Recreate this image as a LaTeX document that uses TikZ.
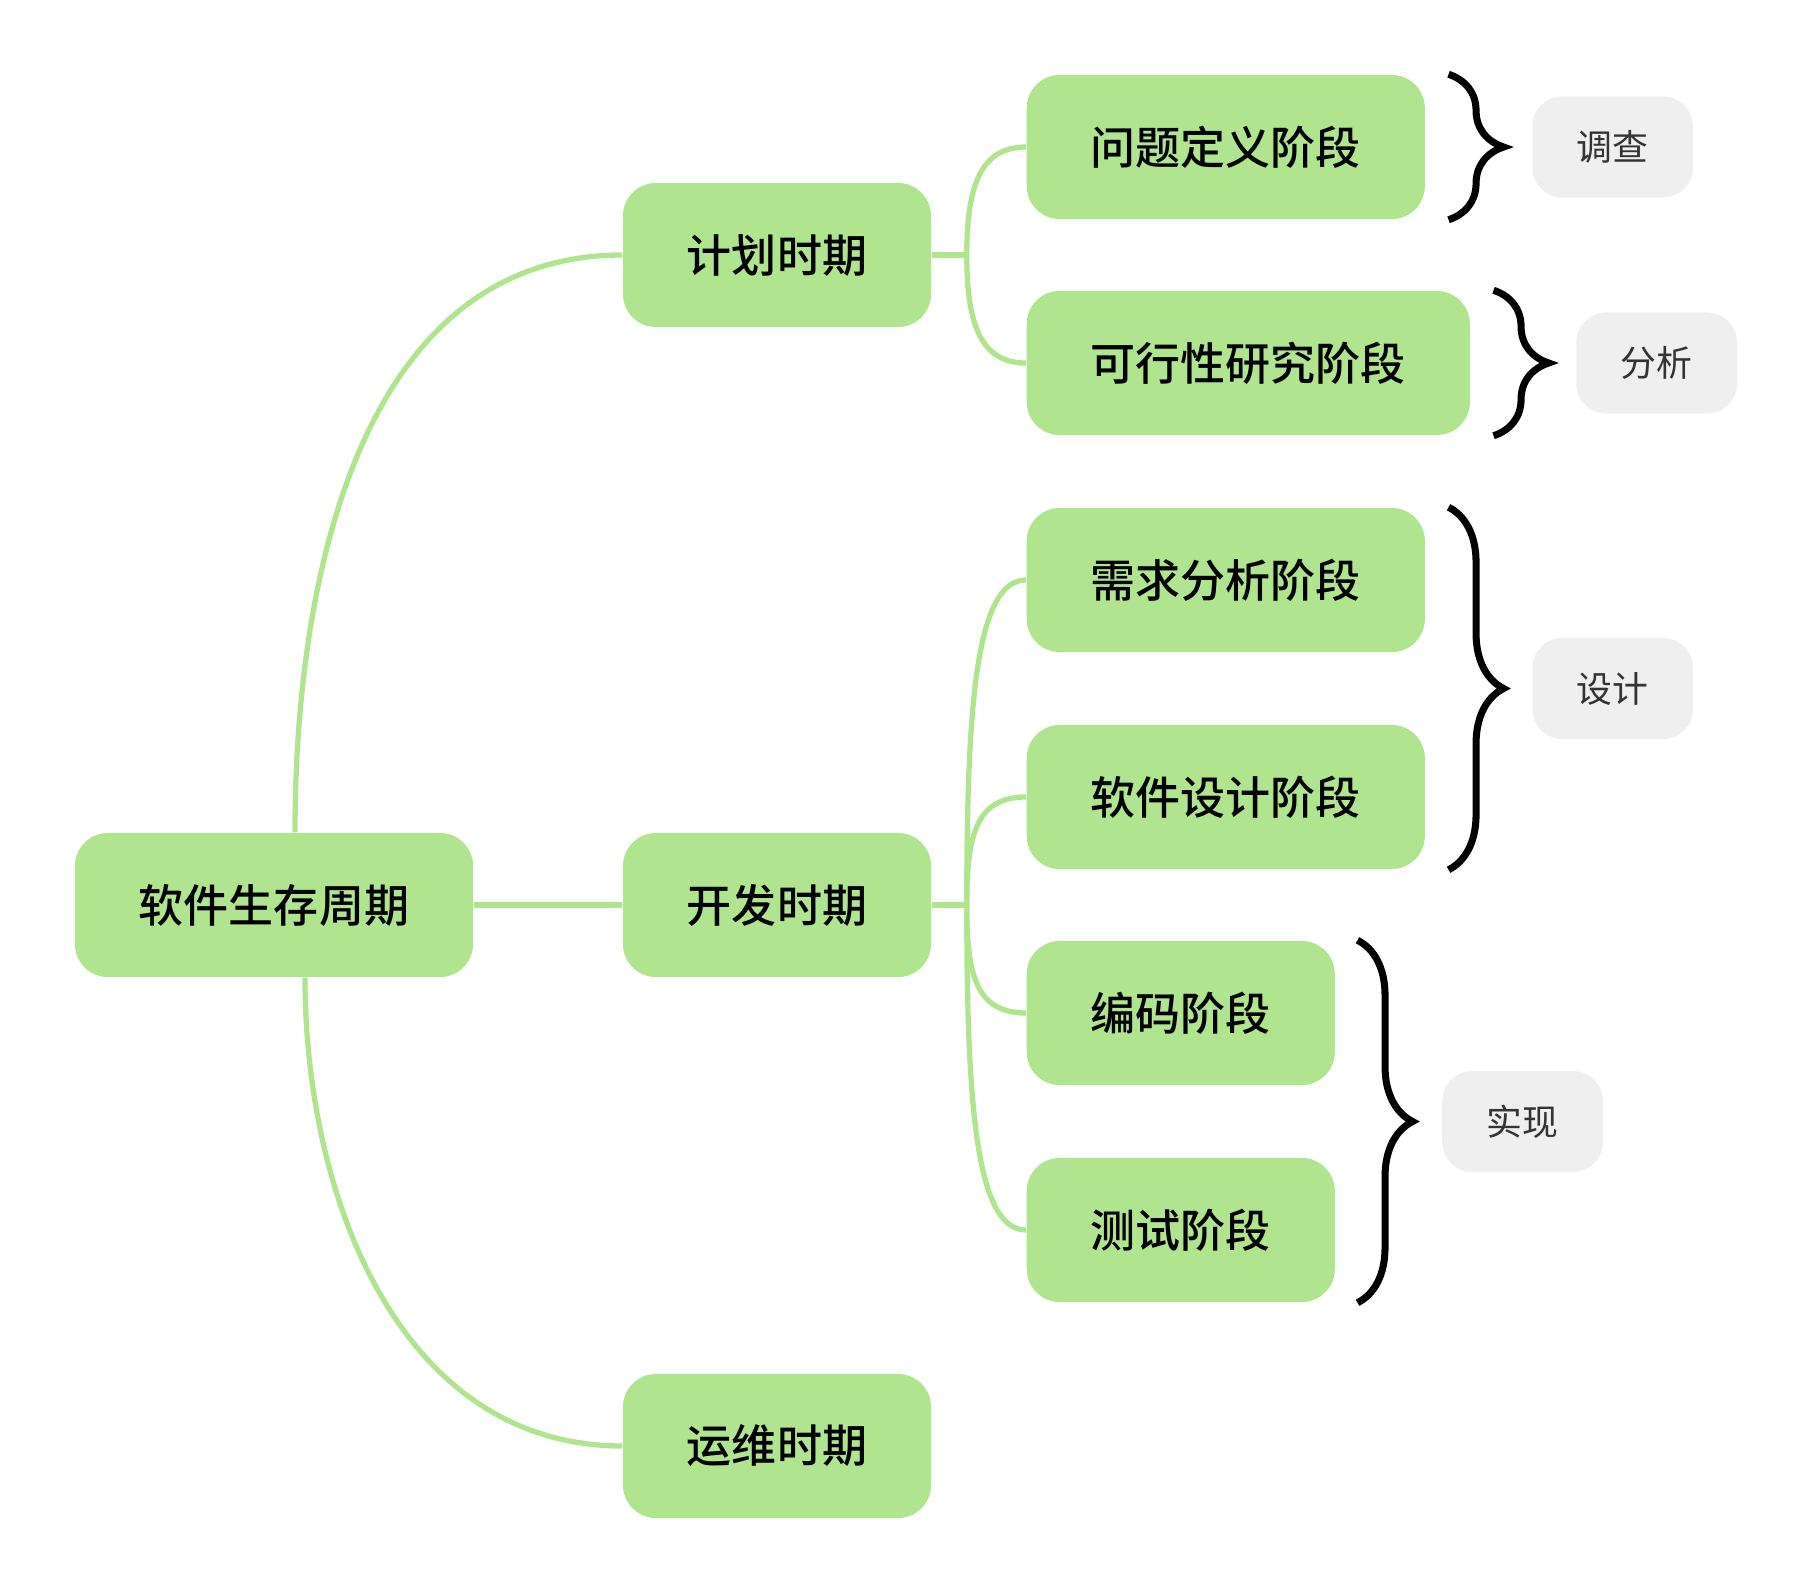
\documentclass[tikz,border=0pt]{standalone}
\usepackage{fontspec}
\newfontfamily\cjk[BoldFont={Noto Sans CJK SC Medium}]{Noto Sans CJK SC}
\usetikzlibrary{positioning,calc,decorations.pathreplacing}
\definecolor{leaf}{RGB}{176,228,143}
\definecolor{notegray}{RGB}{239,239,239}
\definecolor{notetext}{RGB}{51,51,51}
\tikzset{
	stagebox/.style={fill=leaf,rounded corners=0.33cm,inner xsep=0.64cm,inner ysep=0pt,minimum height=1.44cm,font=\cjk\bfseries\fontsize{12.8}{15}\selectfont},
	notebox/.style={fill=notegray,text=notetext,rounded corners=0.3cm,inner xsep=0.445cm,inner ysep=0pt,minimum height=1.01cm,font=\cjk\fontsize{10.2}{12}\selectfont},
	link/.style={leaf,line width=1.5pt},
	bracket/.style={decorate,decoration={brace,amplitude=0.55cm},line width=2pt},
}
\begin{document}
\begin{tikzpicture}[x=0.01cm,y=-0.01cm]
	\useasboundingbox (0,0) rectangle (1814,1590);
	\node[stagebox] (root) at (274,905) {软件生存周期};
	\node[stagebox] (plan) at (777,255) {计划时期};
	\node[stagebox] (dev) at (777,905) {开发时期};
	\node[stagebox] (ops) at (777,1446) {运维时期};
	\node[stagebox,anchor=west] (qdef) at (1026,147) {问题定义阶段};
	\node[stagebox,anchor=west] (feas) at (1026,363) {可行性研究阶段};
	\node[stagebox,anchor=west] (req) at (1026,580) {需求分析阶段};
	\node[stagebox,anchor=west] (des) at (1026,797) {软件设计阶段};
	\node[stagebox,anchor=west] (code) at (1026,1013) {编码阶段};
	\node[stagebox,anchor=west] (test) at (1026,1230) {测试阶段};
	% main branches
	\draw[link] (root.east) -- (dev.west);
	\draw[link] ($(root.north)+(21,0)$) to[out=90,in=180] (plan.west);
	\draw[link] ($(root.south)+(31,0)$) to[out=-90,in=180] (ops.west);
	% sub branches
	\coordinate (pj) at ($(plan.east)+(35,0)$);
	\coordinate (dj) at ($(dev.east)+(35,0)$);
	\draw[link] (plan.east) -- (pj);
	\draw[link] (dev.east) -- (dj);
	\draw[link] (pj) .. controls +(0,-70) and +(-45,0) .. (qdef.west);
	\draw[link] (pj) .. controls +(0,70) and +(-45,0) .. (feas.west);
	\foreach \n/\a in {req/-200,des/-70,code/70,test/200}
		\draw[link] (dj) .. controls +(0,\a) and +(-50,0) .. (\n.west);
	% braces and notes
	\draw[bracket] ($(qdef.north east)+(23,0)$) -- ($(qdef.south east)+(23,0)$);
	\draw[bracket] ($(feas.north east)+(23,0)$) -- ($(feas.south east)+(23,0)$);
	\draw[bracket] ($(req.north east)+(23,0)$) -- ($(des.south east)+(23,0)$);
	\draw[bracket] ($(code.north east)+(22,0)$) -- ($(test.south east)+(22,0)$);
	\node[notebox,anchor=west] (n1) at ($(qdef.east)+(106,0)$) {调查};
	\node[notebox,anchor=west] (n2) at ($(feas.east)+(105,0)$) {分析};
	\node[notebox,anchor=west] (n3) at ($(req.east)!.5!(des.east)+(106,0)$) {设计};
	\node[notebox,anchor=west] (n4) at ($(code.east)!.5!(test.east)+(106,0)$) {实现};
\end{tikzpicture}
\end{document}
